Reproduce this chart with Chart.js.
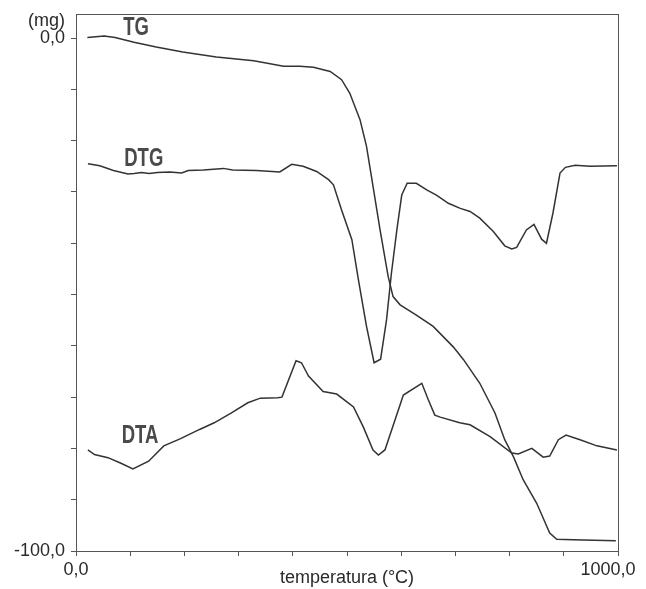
<!DOCTYPE html>
<html>
<head>
<meta charset="utf-8">
<script src="https://cdn.jsdelivr.net/npm/chart.js@4/dist/chart.umd.min.js"></script>
<style>
html,body{margin:0;padding:0;background:#fff;}
canvas{display:block;}
</style>
</head>
<body>
<canvas id="c" width="646" height="589"></canvas>
<script>
// ---- data ----
const tgTemp = [21,52,72,107,148,197,259,328,383,413,438,469,490,505,524,536,546,561,576,585,598,628,659,696,715,745,773,791,807,825,850,874,887,917,996];
const tgMass = [0.1,0.4,0.1,-0.8,-1.75,-2.7,-3.7,-4.4,-5.5,-5.5,-5.7,-6.5,-8.1,-10.7,-15.9,-21.1,-27.6,-37.4,-46.5,-50.4,-52,-54,-56.2,-60.2,-62.7,-67.3,-73.1,-78.3,-81.6,-86.1,-90.7,-96.5,-97.7,-97.8,-98];

const dtgTemp = [22,44,69,96,107,121,135,150,173,195,207,235,272,289,333,376,398,419,444,466,475,490,509,521,536,550,562,573,582,592,601,611,628,647,665,687,709,727,745,770,791,804,813,831,845,859,868,880,893,903,921,948,998];
const dtgVal  = [-24.5,-24.9,-25.8,-26.5,-26.4,-26.2,-26.4,-26.2,-26.1,-26.3,-25.8,-25.7,-25.4,-25.7,-25.8,-26.1,-24.6,-25,-26,-27.6,-28.6,-33.5,-39.3,-47.1,-56.2,-63.3,-62.6,-54.9,-45.8,-37.4,-30.6,-28.3,-28.3,-29.6,-30.6,-32.2,-33.2,-33.8,-35.1,-37.7,-40.5,-41.1,-40.8,-37.4,-36.3,-39.2,-40,-34.1,-26.3,-25.2,-24.8,-25,-24.9];

const dtaTemp = [22,34,59,83,105,134,162,193,228,255,286,317,340,372,380,406,416,429,456,481,512,530,548,558,570,604,638,650,662,672,708,727,764,804,816,841,862,874,890,904,930,961,998];
const dtaVal  = [-80.3,-81.2,-81.8,-82.9,-84,-82.5,-79.5,-78.1,-76.3,-75,-73.1,-71.1,-70.2,-70.1,-70,-62.9,-63.3,-65.9,-68.9,-69.4,-71.9,-75.8,-80.3,-81.3,-80.3,-69.6,-67.3,-70.5,-73.5,-73.9,-75,-75.4,-77.7,-80.9,-81.1,-80,-81.7,-81.5,-78.3,-77.4,-78.3,-79.5,-80.3];

const xTicks = [0,100,200,300,400,500,600,700,800,900,1000];
const xTickLabels = {0:'0,0', 1000:'1000,0\u2007\u2007'};
const yTicks = [0,-10,-20,-30,-40,-50,-60,-70,-80,-90,-100];
const yTickLabels = {0:'0,0', '-100':'-100,0'};
const curveNames = ['TG','DTG','DTA'];
const curveLabelAt = [[111,2.2],[125,-23.3],[118,-77.4]];

const pts = (xs, ys) => xs.map((x,i)=>({x:x, y:ys[i]}));
const lineColor = '#333';

const decor = {
  id:'decor',
  afterDraw(chart){
    const ctx = chart.ctx, a = chart.chartArea;
    const xs = chart.scales.x, ys = chart.scales.y;
    ctx.save();
    ctx.strokeStyle = '#555'; ctx.lineWidth = 1;
    ctx.strokeRect(a.left+0.5, a.top+0.5, a.right-a.left, a.bottom-a.top);
    ctx.fillStyle = '#2a2a2a';
    ctx.font = '18px "Liberation Sans", Arial, sans-serif';
    ctx.textAlign = 'right'; ctx.textBaseline = 'middle';
    ctx.fillText('(mg)', 65, 21);
    ctx.textAlign = 'center';
    ctx.fillText('temperatura (°C)', (a.left+a.right)/2, 578);
    // curve names
    ctx.fillStyle = '#4a4a4a';
    ctx.font = 'bold 25px "Liberation Sans", Arial, sans-serif';
    curveNames.forEach((n,i)=>{
      const px = xs.getPixelForValue(curveLabelAt[i][0]);
      const py = ys.getPixelForValue(curveLabelAt[i][1]);
      ctx.save();
      ctx.translate(px, py);
      ctx.scale(0.74, 1);
      ctx.textAlign='center'; ctx.textBaseline='middle';
      ctx.fillText(n, 0, 1);
      ctx.restore();
    });
    ctx.restore();
  }
};

new Chart(document.getElementById('c'), {
  type:'line',
  data:{
    datasets:[
      {label:'TG', data:pts(tgTemp,tgMass)},
      {label:'DTG', data:pts(dtgTemp,dtgVal)},
      {label:'DTA', data:pts(dtaTemp,dtaVal)}
    ].map(d=>Object.assign(d,{borderColor:lineColor, borderWidth:1.5, pointRadius:0, tension:0, fill:false}))
  },
  options:{
    responsive:false, animation:false, devicePixelRatio:1,
    layout:{padding:{left:0, top:14, right:28, bottom:0}},
    plugins:{legend:{display:false}, tooltip:{enabled:false}},
    scales:{
      x:{
        type:'linear', min:0, max:1000,
        afterBuildTicks(s){ s.ticks = xTicks.map(v=>({value:v})); },
        afterFit(s){ s.height = 38; s.paddingLeft = 0; s.paddingRight = 0; },
        grid:{drawOnChartArea:false, drawTicks:true, tickLength:5, color:'#555'},
        border:{display:true, color:'#555'},
        ticks:{autoSkip:false, maxRotation:0, padding:3, color:'#2a2a2a',
          font:{family:'"Liberation Sans", Arial, sans-serif', size:18},
          callback:(v)=> xTickLabels[v] !== undefined ? xTickLabels[v] : ''}
      },
      y:{
        type:'linear', min:-100, max:4.7,
        afterBuildTicks(s){ s.ticks = yTicks.map(v=>({value:v})); },
        afterFit(s){ s.width = 76; s.paddingTop = 0; s.paddingBottom = 0; },
        grid:{drawOnChartArea:false, drawTicks:true, tickLength:5, color:'#555'},
        border:{display:true, color:'#555'},
        ticks:{autoSkip:false, padding:6, color:'#2a2a2a',
          font:{family:'"Liberation Sans", Arial, sans-serif', size:18},
          callback:(v)=> yTickLabels[v] !== undefined ? yTickLabels[v] : ''}
      }
    }
  },
  plugins:[decor]
});
</script>
</body>
</html>
